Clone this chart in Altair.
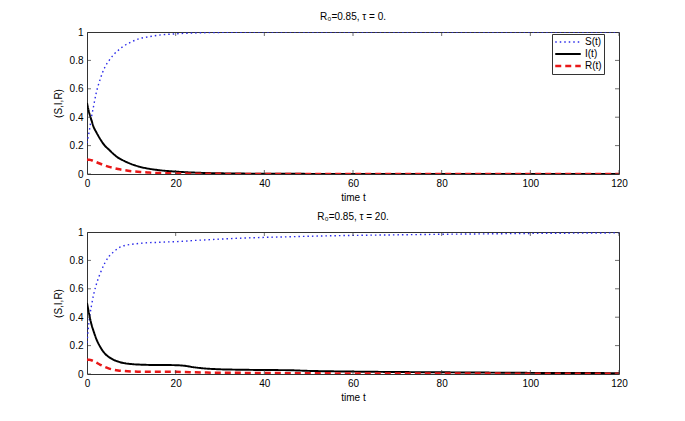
import altair as alt
import pandas as pd

series_names = ["S(t)", "I(t)", "R(t)"]
series_colors = ["#2b2bea", "#000000", "#e81818"]

t_top = [0, 0.5, 1, 1.5, 2, 3, 4, 5, 6, 7, 8, 10, 12, 14, 16, 20, 25, 30, 40, 60, 80, 100, 120]
S_top = [0.22, 0.30, 0.40, 0.48, 0.56, 0.67, 0.75, 0.80, 0.84, 0.87, 0.895, 0.93, 0.955, 0.967, 0.977,
         0.987, 0.994, 0.997, 0.999, 1.0, 1.0, 1.0, 1.0]
I_top = [0.50, 0.43, 0.38, 0.33, 0.30, 0.245, 0.20, 0.17, 0.14, 0.115, 0.098, 0.07, 0.05, 0.037, 0.028,
         0.017, 0.009, 0.005, 0.002, 0.0005, 0.0, 0.0, 0.0]
R_top = [0.10, 0.10, 0.097, 0.092, 0.085, 0.072, 0.06, 0.05, 0.042, 0.035, 0.029, 0.02, 0.014, 0.01, 0.007,
         0.004, 0.002, 0.001, 0.0, 0.0, 0.0, 0.0, 0.0]

t_bot = [0, 0.5, 1, 1.5, 2, 3, 4, 5, 6, 7, 8, 10, 12, 14, 16, 18, 20, 22, 24, 27, 30, 35, 40, 45, 50,
         60, 70, 80, 90, 100, 110, 120]
S_bot = [0.22, 0.38, 0.48, 0.56, 0.62, 0.71, 0.78, 0.83, 0.86, 0.885, 0.90, 0.913, 0.92, 0.925, 0.927,
         0.93, 0.932, 0.935, 0.94, 0.945, 0.95, 0.957, 0.962, 0.966, 0.97, 0.976, 0.98, 0.984, 0.987,
         0.99, 0.992, 0.994]
I_bot = [0.50, 0.42, 0.35, 0.30, 0.255, 0.19, 0.145, 0.118, 0.10, 0.088, 0.079, 0.07, 0.066, 0.064, 0.063,
         0.063, 0.062, 0.058, 0.048, 0.038, 0.033, 0.030, 0.028, 0.027, 0.022, 0.017, 0.014, 0.012, 0.010,
         0.008, 0.007, 0.006]
R_bot = [0.10, 0.10, 0.097, 0.09, 0.082, 0.065, 0.05, 0.038, 0.030, 0.025, 0.022, 0.018, 0.016, 0.015, 0.015,
         0.015, 0.015, 0.014, 0.012, 0.010, 0.009, 0.008, 0.007, 0.006, 0.005, 0.004, 0.003, 0.003, 0.003,
         0.002, 0.002, 0.002]

x_ticks = [0, 20, 40, 60, 80, 100, 120]
y_ticks = [0, 0.2, 0.4, 0.6, 0.8, 1.0]

titles = ["R\u2080=0.85, \u03c4 = 0.", "R\u2080=0.85, \u03c4 = 20."]

FONT = "Liberation Sans"
W, H = 532, 142


def long_df(t, S, I, R):
    rows = []
    for name, vals in zip(series_names, [S, I, R]):
        for tt, v in zip(t, vals):
            rows.append({"t": tt, "v": v, "series": name})
    return pd.DataFrame(rows)


def panel(df, title):
    xs = alt.Scale(domain=[0, 120], nice=False)
    ys = alt.Scale(domain=[0, 1], nice=False)
    xax = alt.Axis(values=x_ticks, title="time t", grid=False, ticks=False, domain=False,
                   labelPadding=4, titlePadding=4, labelOverlap=False, labelFlush=False)
    yax = alt.Axis(values=y_ticks, title="(S,I,R)", grid=False, ticks=False, domain=False,
                   format="~g", labelPadding=4, titlePadding=6, labelOverlap=False, labelFlush=False)
    lines = alt.Chart(df).mark_line(interpolate="monotone", clip=True).encode(
        x=alt.X("t:Q", scale=xs, axis=xax),
        y=alt.Y("v:Q", scale=ys, axis=yax),
        color=alt.Color("series:N", scale=alt.Scale(domain=series_names, range=series_colors),
                        legend=alt.Legend(title=None)),
        strokeDash=alt.StrokeDash("series:N", scale=alt.Scale(domain=series_names,
                                                              range=[[1.5, 3], [1, 0], [6, 4]]),
                                  legend=alt.Legend(title=None)),
        strokeWidth=alt.StrokeWidth("series:N", scale=alt.Scale(domain=series_names, range=[1.4, 2.5, 2.3]),
                                    legend=alt.Legend(title=None)),
        order=alt.Order("t:Q"),
    )
    xt = pd.DataFrame({"t": x_ticks})
    yt = pd.DataFrame({"v": y_ticks})
    tick_style = dict(color="#333333", thickness=1, size=8, clip=True)
    xb = alt.Chart(xt).mark_tick(**tick_style).encode(x=alt.X("t:Q", scale=xs, axis=xax), y=alt.value(H))
    xtop = alt.Chart(xt).mark_tick(**tick_style).encode(x=alt.X("t:Q", scale=xs, axis=xax), y=alt.value(0))
    yl = alt.Chart(yt).mark_tick(**tick_style).encode(y=alt.Y("v:Q", scale=ys, axis=yax), x=alt.value(0))
    yr = alt.Chart(yt).mark_tick(**tick_style).encode(y=alt.Y("v:Q", scale=ys, axis=yax), x=alt.value(W))
    return alt.layer(lines, xb, xtop, yl, yr).properties(
        width=W, height=H,
        title=alt.TitleParams(title, fontSize=10, fontWeight="normal", font=FONT, offset=5, color="black"),
    )


top = panel(long_df(t_top, S_top, I_top, R_top), titles[0])
bot = panel(long_df(t_bot, S_bot, I_bot, R_bot), titles[1])

chart = alt.vconcat(top, bot, spacing=8).properties(
    padding={"left": 44, "top": 3, "right": 5, "bottom": 5}
).configure_view(
    stroke="#333333", strokeWidth=1
).configure_axis(
    labelFont=FONT, titleFont=FONT, labelFontSize=10, titleFontSize=10, titleFontWeight="normal",
    labelColor="black", titleColor="black"
).configure_legend(
    orient="none", legendX=465, legendY=2, strokeColor="#333333", fillColor="white", padding=2,
    symbolType="stroke", symbolSize=650, labelFont=FONT, labelFontSize=10, labelColor="black",
    clipHeight=12, rowPadding=0, labelOffset=3
)

chart.save("out.html", embed_options={"renderer": "svg", "actions": False})
